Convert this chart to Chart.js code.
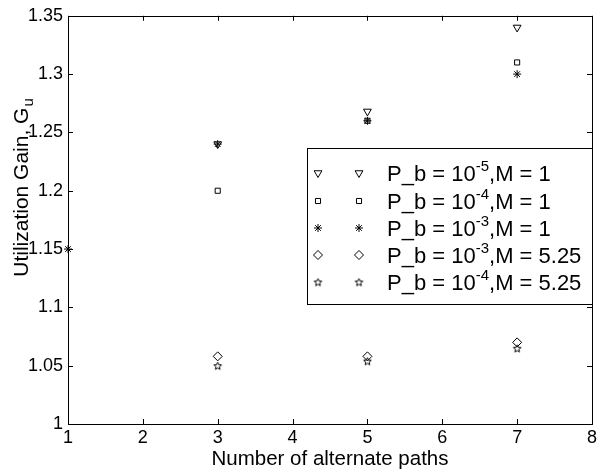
<!DOCTYPE html>
<html>
<head>
<meta charset="utf-8">
<script src="https://cdn.jsdelivr.net/npm/chart.js@4"></script>
<style>
  html, body { margin: 0; padding: 0; background: #fff; }
  #wrap { width: 600px; height: 472px; }
</style>
</head>
<body>
<div id="wrap"><canvas id="gainChart" width="600" height="472"></canvas></div>
<script>
// number of alternate paths (x positions)
const paths = [1, 3, 5, 7];

// utilization gain per legend entry
const pb5M1 = [null, 1.24, 1.268, 1.34];
const pb4M1 = [null, 1.20, 1.26, 1.31];
const pb3M1 = [1.15, 1.24, 1.26, 1.30];
const pb3M525 = [null, 1.058, 1.058, 1.07];
const pb4M525 = [null, 1.05, 1.054, 1.065];

// legend text: [exponent, M]
const legendExp = ['-5', '-4', '-3', '-3', '-4'];
const legendM = ['1', '1', '1', '5.25', '5.25'];

const xTicks = [1, 2, 3, 4, 5, 6, 7, 8];
const yTicks = [1, 1.05, 1.1, 1.15, 1.2, 1.25, 1.3, 1.35];

const FONT = '"Liberation Sans", Arial, Helvetica, sans-serif';

// five point star marker (not built in)
function makeStar(r) {
    const c = document.createElement('canvas');
    const s = r * 2 + 3;
    c.width = s; c.height = s;
    const g = c.getContext('2d');
    g.strokeStyle = '#000';
    g.lineWidth = 1;
    g.beginPath();
    for (let i = 0; i < 10; i++) {
        const rr = i % 2 === 0 ? r : r * 0.45;
        const a = -Math.PI / 2 + i * Math.PI / 5;
        const px = s / 2 + rr * Math.cos(a);
        const py = s / 2 + 0.5 + rr * Math.sin(a);
        if (i === 0) g.moveTo(px, py); else g.lineTo(px, py);
    }
    g.closePath();
    g.stroke();
    return c;
}
const starImg = makeStar(4);

function toPoints(vals) {
    return paths.map((x, i) => ({ x: x, y: vals[i] })).filter(p => p.y !== null);
}

const markers = [
    { style: 'triangle', rot: 180, radius: 4.5 },
    { style: 'rect', rot: 0, radius: 3.6 },
    { style: 'star', rot: 0, radius: 4 },
    { style: 'rectRot', rot: 0, radius: 4.5 },
    { style: starImg, rot: 0, radius: 4 }
];
const seriesVals = [pb5M1, pb4M1, pb3M1, pb3M525, pb4M525];

const datasets = seriesVals.map((vals, i) => ({
    label: 'P_b = 10^' + legendExp[i] + ',M = ' + legendM[i],
    data: toPoints(vals),
    showLine: false,
    clip: false,
    pointStyle: markers[i].style,
    rotation: markers[i].rot,
    pointRadius: markers[i].radius,
    pointBorderColor: '#000',
    pointBackgroundColor: 'rgba(0,0,0,0)',
    pointBorderWidth: 1
}));

// frame, inward ticks, axis labels with sub/superscripts, legend
const matlabLook = {
    id: 'matlabLook',
    afterDraw(chart) {
        const ctx = chart.ctx;
        const a = chart.chartArea;
        const xs = chart.scales.x, ys = chart.scales.y;
        ctx.save();
        ctx.strokeStyle = '#000';
        ctx.lineWidth = 1;
        ctx.strokeRect(Math.round(a.left) + 0.5, Math.round(a.top) + 0.5,
            Math.round(a.right - a.left), Math.round(a.bottom - a.top));
        const t = 5;
        ctx.beginPath();
        xTicks.forEach(v => {
            const px = Math.round(xs.getPixelForValue(v)) + 0.5;
            ctx.moveTo(px, a.bottom); ctx.lineTo(px, a.bottom - t);
            ctx.moveTo(px, a.top); ctx.lineTo(px, a.top + t);
        });
        yTicks.forEach(v => {
            const py = Math.round(ys.getPixelForValue(v)) + 0.5;
            ctx.moveTo(a.left, py); ctx.lineTo(a.left + t, py);
            ctx.moveTo(a.right, py); ctx.lineTo(a.right - t, py);
        });
        ctx.stroke();

        // y axis title with subscript
        ctx.fillStyle = '#000';
        ctx.translate(22, 188);
        ctx.rotate(-Math.PI / 2);
        ctx.font = '21px ' + FONT;
        ctx.textBaseline = 'middle';
        const main = 'Utilization Gain, G';
        const w = ctx.measureText(main).width;
        ctx.font = '15px ' + FONT;
        const sw = ctx.measureText('u').width;
        const x0 = -(w + sw) / 2;
        ctx.font = '21px ' + FONT;
        ctx.textAlign = 'left';
        ctx.fillText(main, x0, 0);
        ctx.font = '15px ' + FONT;
        ctx.fillText('u', x0 + w + 1, 7);
        ctx.setTransform(1, 0, 0, 1, 0, 0);

        // legend box
        const lx = 307, ly = 148, lw = Math.round(a.right) - lx, lh = 156;
        ctx.fillStyle = '#fff';
        ctx.fillRect(lx, ly, lw, lh);
        ctx.strokeStyle = '#000';
        ctx.strokeRect(lx + 0.5, ly + 0.5, lw, lh);
        const rows = [173, 201, 228, 255, 282];
        rows.forEach((ry, i) => {
            const m = markers[i];
            [318, 359].forEach(mx => {
                ctx.fillStyle = 'rgba(0,0,0,0)';
                ctx.strokeStyle = '#000';
                ctx.lineWidth = 1;
                Chart.helpers.drawPoint(ctx, {
                    pointStyle: m.style, rotation: m.rot, radius: m.radius, borderWidth: 1
                }, mx, ry);
            });
            ctx.fillStyle = '#000';
            ctx.textAlign = 'left';
            ctx.textBaseline = 'alphabetic';
            ctx.font = '22px ' + FONT;
            let tx = 387;
            const base = ry + 8;
            const p1 = 'P_b = 10';
            ctx.fillText(p1, tx, base);
            tx += ctx.measureText(p1).width;
            ctx.font = '15px ' + FONT;
            ctx.fillText(legendExp[i], tx, base - 10);
            tx += ctx.measureText(legendExp[i]).width;
            ctx.font = '22px ' + FONT;
            ctx.fillText(',M = ' + legendM[i], tx, base);
        });
        ctx.restore();
    }
};

new Chart(document.getElementById('gainChart').getContext('2d'), {
    type: 'scatter',
    data: { datasets: datasets },
    options: {
        responsive: false,
        animation: false,
        layout: { padding: { top: 13, right: 5, left: 0, bottom: 0 } },
        plugins: { legend: { display: false }, tooltip: { enabled: false } },
        scales: {
            x: {
                type: 'linear', min: 1, max: 8,
                afterBuildTicks: s => { s.ticks = xTicks.map(v => ({ value: v })); },
                afterFit: s => { s.height = 48; },
                grid: { display: false, drawTicks: false },
                border: { display: false },
                ticks: { color: '#000', font: { family: FONT, size: 18 }, padding: 3, maxRotation: 0,
                    callback: v => String(v) },
                title: { display: true, text: 'Number of alternate paths', color: '#000',
                    font: { family: FONT, size: 20.5 }, padding: { top: 0, bottom: 0 } }
            },
            y: {
                type: 'linear', min: 1, max: 1.35,
                afterBuildTicks: s => { s.ticks = yTicks.map(v => ({ value: v })); },
                afterFit: s => { s.width = 68; },
                grid: { display: false, drawTicks: false },
                border: { display: false },
                ticks: { color: '#000', font: { family: FONT, size: 18 }, padding: 5,
                    callback: v => String(+v.toFixed(2)) }
            }
        }
    },
    plugins: [matlabLook]
});
</script>
</body>
</html>
